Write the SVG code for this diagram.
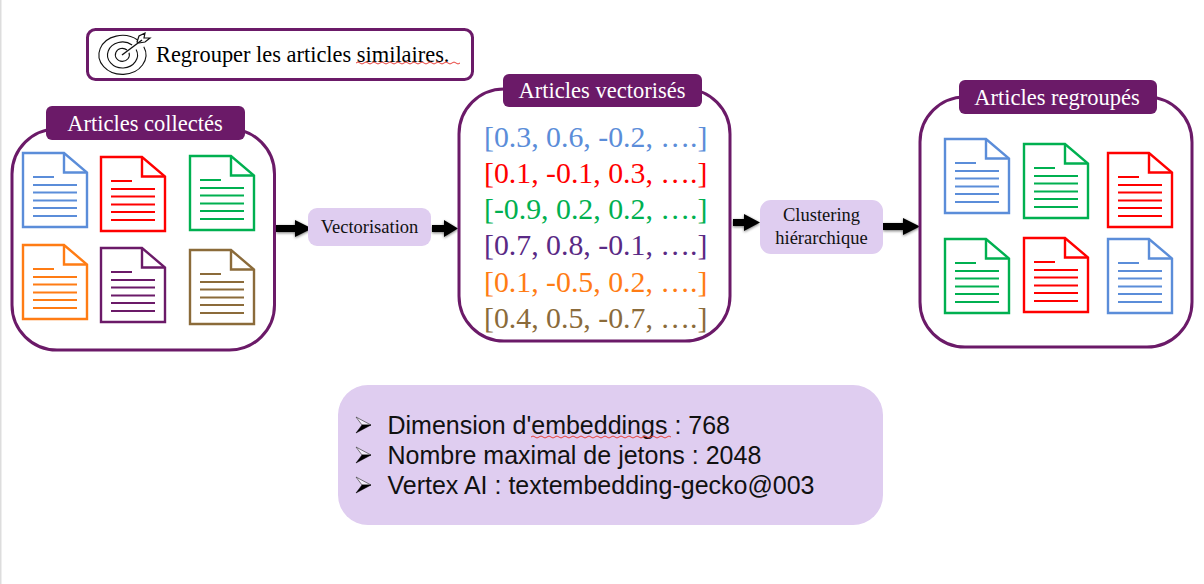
<svg xmlns="http://www.w3.org/2000/svg" xmlns:xlink="http://www.w3.org/1999/xlink" width="1204" height="584" viewBox="0 0 1204 584">
<style>
.panel{fill:#fff;stroke:#6b1a68;stroke-width:3}
.tag{fill:#6b1a68}
.tagt{font:22.500px "Liberation Serif",serif;fill:#fff;text-anchor:middle}
.step{fill:#dfcdf0}
.stept{font:18.500px "Liberation Serif",serif;fill:#111;text-anchor:middle}
.vec{font:29.800px "Liberation Serif",serif}
.bul{font:25px "Liberation Sans",sans-serif;fill:#111}
.doc{fill:none;stroke:currentColor;stroke-width:2.400}
.ln{stroke:currentColor;stroke-width:2}
.sq{fill:none;stroke:#e8403a;stroke-width:1}
.blue{color:#5b8dd9;fill:#5b8dd9}.red{color:#f00;fill:#f00}.green{color:#00b050;fill:#00b050}.orange{color:#ff7c14;fill:#ff7c14}.brown{color:#8b6b3a;fill:#8b6b3a}
</style>
<defs>
<g id="d">
<path class="doc" d="M1 1H42L65 20.500V75H1Z"/><path class="doc" d="M42 1V20.500H65"/>
<path class="ln" d="M11 25H32M11 33H55M11 40.500H55M11 48.500H55M11 56H55M11 64H55"/>
</g>
<g id="bu">
<path d="M0 0L15 8L6 8Z" fill="#f4eefb" stroke="#444" stroke-width=".7"/>
<path d="M0 16L15 8L6 8Z" fill="#000" stroke="#000" stroke-width=".5"/>
</g>
<g id="arrows">
<path d="M276 225H295V220L312 228.500L295 237V232H276Z"/>
<path d="M432 225H444V220L458 228.500L444 237V232H432Z"/>
<path d="M733 219H744V214L760 222.500L744 231V226H733Z"/>
<path d="M883 223H903V218L920 226.500L903 235V230H883Z"/>
</g>
<filter id="sh" x="-30%" y="-50%" width="160%" height="200%"><feGaussianBlur stdDeviation="1.500"/></filter>
</defs>
<rect width="1204" height="584" fill="#fff"/>
<rect x="0" y="0" width="1.500" height="584" fill="#ddd"/>

<g id="goal">
<rect x="87.500" y="29.500" width="385" height="50" rx="8" class="panel"/>
<g fill="none" stroke="#111" stroke-width="1.100">
<path d="M137.600 40A23.500 19.500 0 1 0 143.800 46.800"/>
<path d="M132.100 45A15 13 0 1 0 136.100 49.500"/>
<path d="M127 50A7 6.500 0 1 0 129 52.800"/>
<path d="M122 55L142 40" stroke-width="1.400"/>
<path d="M137 42L139 36L145 33L144 38L150 38L145 42L139 43Z" stroke-width="1.200"/>
</g>
<text x="156" y="62" font-family="'Liberation Serif',serif" font-size="22.400" fill="#000">Regrouper les articles similaires.</text>
<path class="sq" d="M356 63q2-2 4 0t4 0t4 0t4 0t4 0t4 0t4 0t4 0t4 0t4 0t4 0t4 0t4 0t4 0t4 0t4 0t4 0t4 0t4 0t4 0t4 0t4 0t4 0t4 0t4 0t4 0"/>
</g>

<g id="connectors">
<use xlink:href="#arrows" filter="url(#sh)" opacity=".55" y="1"/>
<use xlink:href="#arrows"/>
</g>

<g id="collected">
<rect x="12" y="129" width="262.500" height="221" rx="45" class="panel"/>
<rect x="46" y="106" width="199" height="34" rx="6" class="tag"/>
<text x="145" y="131" class="tagt">Articles collectés</text>
<use xlink:href="#d" x="22" y="152" class="blue"/>
<use xlink:href="#d" x="100" y="156" class="red"/>
<use xlink:href="#d" x="189" y="155" class="green"/>
<use xlink:href="#d" x="22" y="244" class="orange"/>
<use xlink:href="#d" x="100" y="247" style="color:#6b1a68"/>
<use xlink:href="#d" x="189" y="249" class="brown"/>
</g>

<g id="vectorisation">
<rect x="308" y="208" width="123" height="38" rx="9" class="step"/>
<text x="369.500" y="233" class="stept">Vectorisation</text>
</g>

<g id="vectorized">
<rect x="459" y="89" width="271" height="252" rx="45" class="panel"/>
<rect x="503" y="74" width="199" height="33" rx="6" class="tag"/>
<text x="602" y="98" class="tagt">Articles vectorisés</text>
<text x="484" y="147" class="vec blue">[0.3, 0.6, -0.2, ….]</text>
<text x="484" y="183" class="vec red">[0.1, -0.1, 0.3, ….]</text>
<text x="484" y="219" class="vec green">[-0.9, 0.2, 0.2, ….]</text>
<text x="484" y="255" class="vec" fill="#5a2a85">[0.7, 0.8, -0.1, ….]</text>
<text x="484" y="292" class="vec orange">[0.1, -0.5, 0.2, ….]</text>
<text x="484" y="328" class="vec brown">[0.4, 0.5, -0.7, ….]</text>
</g>

<g id="clustering">
<rect x="760" y="200" width="123" height="54" rx="11" class="step"/>
<text x="821.500" y="221" class="stept">Clustering</text>
<text x="821.500" y="244" class="stept">hiérarchique</text>
</g>

<g id="grouped">
<rect x="920" y="97" width="272" height="250" rx="45" class="panel"/>
<rect x="959" y="80" width="198" height="34" rx="6" class="tag"/>
<text x="1057" y="105" class="tagt">Articles regroupés</text>
<use xlink:href="#d" x="944" y="138" class="blue"/>
<use xlink:href="#d" x="1023" y="143" class="green"/>
<use xlink:href="#d" x="1107" y="152" class="red"/>
<use xlink:href="#d" x="944" y="238" class="green"/>
<use xlink:href="#d" x="1023" y="237" class="red"/>
<use xlink:href="#d" x="1107" y="238" class="blue"/>
</g>

<g id="params">
<rect x="338" y="385" width="545" height="140" rx="30" fill="#dfcdf0"/>
<use xlink:href="#bu" x="356" y="417"/><use xlink:href="#bu" x="356" y="447"/><use xlink:href="#bu" x="356" y="477"/>
<text x="387.500" y="434" class="bul">Dimension d'embeddings : 768</text>
<text x="387.500" y="464" class="bul">Nombre maximal de jetons : 2048</text>
<text x="387.500" y="494" class="bul">Vertex AI : textembedding-gecko@003</text>
<path class="sq" d="M531 437q2-2 4 0t4 0t4 0t4 0t4 0t4 0t4 0t4 0t4 0t4 0t4 0t4 0t4 0t4 0t4 0t4 0t4 0t4 0t4 0t4 0t4 0t4 0t4 0t4 0t4 0t4 0t4 0t4 0t4 0t4 0t4 0t4 0t4 0t4 0t4 0"/>
</g>
</svg>
